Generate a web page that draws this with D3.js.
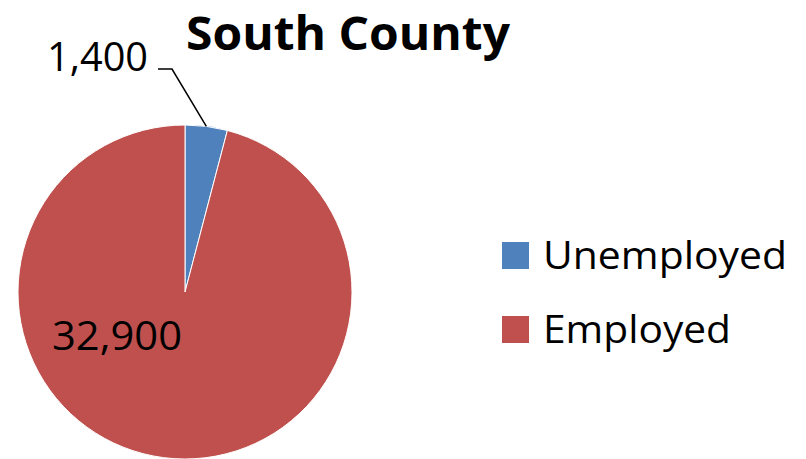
<!DOCTYPE html>
<html><head><meta charset="utf-8">
<script src="https://cdn.jsdelivr.net/npm/d3@7/dist/d3.min.js"></script>
<style>html,body{margin:0;padding:0;background:#fff;}</style>
</head><body>
<svg id="c" width="806" height="459"></svg>
<script>
const title = "South County";
const categories = ["Unemployed", "Employed"];
const values = [1400, 32900];
const labels = ["1,400", "32,900"];
const colors = ["#4F81BD", "#C0504D"];

const svg = d3.select("#c");
const FONT = "Open Sans, Noto Sans, sans-serif";

function fitText(sel, width) {
  sel.attr("textLength", width).attr("lengthAdjust", "spacingAndGlyphs");
}

const cx = 185, cy = 292, r = 167;
const pie = d3.pie().sort(null).value(d => d)(values);
const arc = d3.arc().innerRadius(0).outerRadius(r);
const g = svg.append("g").attr("transform", `translate(${cx},${cy})`);
g.selectAll("path").data(pie).join("path")
  .attr("d", arc)
  .attr("fill", (d, i) => colors[i])
  .attr("stroke", "#fff").attr("stroke-width", 1);

// title
const t = svg.append("text").text(title)
  .attr("x", 186).attr("y", 50)
  .attr("font-family", FONT).attr("font-weight", "bold").attr("font-size", 46);
fitText(t, 324);

// leader line for small slice
const a0 = pie[0];
const mid = (a0.startAngle + a0.endAngle) / 2;
const ex = cx + r * Math.sin(mid), ey = cy - r * Math.cos(mid);
svg.append("path")
  .attr("d", `M${ex},${ey}L172,69L158,69`)
  .attr("fill", "none").attr("stroke", "#000").attr("stroke-width", 1.5);

const l1 = svg.append("text").text(labels[0])
  .attr("x", 47).attr("y", 71)
  .attr("font-family", FONT).attr("font-size", 40);
fitText(l1, 101);

const l2 = svg.append("text").text(labels[1])
  .attr("x", 52).attr("y", 350)
  .attr("font-family", FONT).attr("font-size", 40);
fitText(l2, 130);

// legend
const leg = svg.append("g");
const lyBase = [269, 343];
const legW = [244, 188];
categories.forEach((c, i) => {
  leg.append("rect").attr("x", 502).attr("y", lyBase[i] - 27)
    .attr("width", 27).attr("height", 27).attr("fill", colors[i]);
  const tt = leg.append("text").text(c).attr("x", 543).attr("y", lyBase[i])
    .attr("font-family", FONT).attr("font-size", 38);
  fitText(tt, legW[i]);
});
</script>
</body></html>
